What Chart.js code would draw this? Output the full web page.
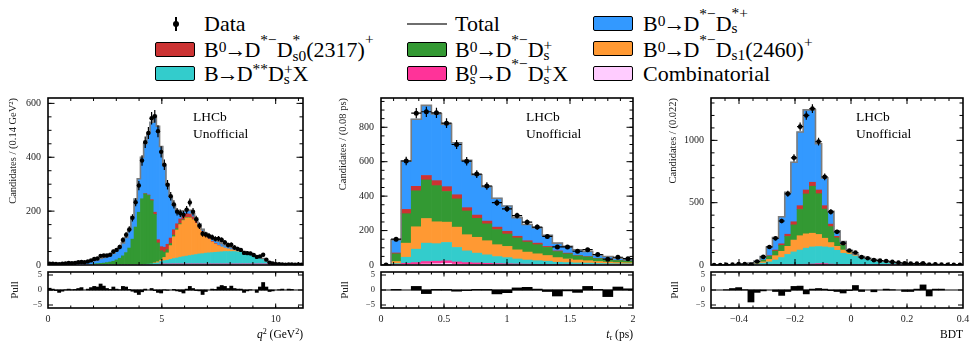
<!DOCTYPE html>
<html><head><meta charset="utf-8">
<script src="https://cdn.jsdelivr.net/npm/chart.js@4.4.1/dist/chart.umd.min.js"></script>
<style>
html,body{margin:0;padding:0;background:#fff;}
body{width:972px;height:342px;position:relative;overflow:hidden;font-family:"Liberation Serif","Times New Roman",serif;color:#000;}
.lg{position:absolute;font-size:22px;line-height:22px;white-space:nowrap;}
.s{font-size:0.7em;position:relative;line-height:0;}
.ar{margin:0 -2px;}
.box{position:absolute;width:38px;height:13px;border:1.5px solid #000;border-radius:2px;}
canvas{position:absolute;}
.txt{position:absolute;white-space:nowrap;line-height:1;}
.lab{font-size:13.5px;}
.xt{font-size:11.5px;text-align:right;}
</style></head><body>

<!-- legend -->
<div style="position:absolute;left:175px;top:17px;width:1.5px;height:14px;background:#000"></div>
<div style="position:absolute;left:173px;top:21px;width:6px;height:6px;border-radius:50%;background:#000"></div>
<div class="lg" style="left:204px;top:12.6px">Data</div>
<div style="position:absolute;left:407px;top:23px;width:40px;height:2px;background:#6e6e6e"></div>
<div class="lg" style="left:455px;top:12.6px">Total</div>
<div class="box" style="left:593px;top:16px;background:#3399ff"></div>
<div class="lg" style="left:643px;top:12.6px">B<span class="s" style="top:-5px">0</span><span class="ar">→</span>D<span class="s" style="top:-12px">*−</span>D<span class="s" style="top:2px">s</span><span class="s" style="top:-13px;margin-left:-0.389em">*+</span></div>

<div class="box" style="left:155px;top:42px;background:#cc3333"></div>
<div class="lg" style="left:204px;top:38.6px">B<span class="s" style="top:-5px">0</span><span class="ar">→</span>D<span class="s" style="top:-12px">*−</span>D<span class="s" style="top:-12px">*</span><span class="s" style="top:4px;margin-left:-0.5em">s0</span>(2317)<span class="s" style="top:-13px">+</span></div>
<div class="box" style="left:407px;top:42px;background:#339933"></div>
<div class="lg" style="left:455px;top:38.6px">B<span class="s" style="top:-5px">0</span><span class="ar">→</span>D<span class="s" style="top:-12px">*−</span>D<span class="s" style="top:3px">s</span><span class="s" style="top:-7px;margin-left:-0.389em">+</span></div>
<div class="box" style="left:593px;top:41px;background:#ff9933"></div>
<div class="lg" style="left:643px;top:38.6px">B<span class="s" style="top:-5px">0</span><span class="ar">→</span>D<span class="s" style="top:-12px">*−</span>D<span class="s" style="top:3px">s1</span>(2460)<span class="s" style="top:-10px">+</span></div>

<div class="box" style="left:155px;top:66px;background:#33cccc"></div>
<div class="lg" style="left:204px;top:62.6px">B<span class="ar">→</span>D<span class="s" style="top:-7px">**</span>D<span class="s" style="top:3px">s</span><span class="s" style="top:-7px;margin-left:-0.389em">+</span>X</div>
<div class="box" style="left:407px;top:66px;background:#ff3399"></div>
<div class="lg" style="left:455px;top:62.6px">B<span class="s" style="top:3px">s</span><span class="s" style="top:-6px;margin-left:-0.389em">0</span><span class="ar">→</span>D<span class="s" style="top:-12px">*−</span>D<span class="s" style="top:3px">s</span><span class="s" style="top:-7px;margin-left:-0.389em">+</span>X</div>
<div class="box" style="left:593px;top:66px;background:#ffccff"></div>
<div class="lg" style="left:643px;top:62.6px">Combinatorial</div>

<script>
Chart.defaults.font.family = '"Liberation Serif","Times New Roman",serif';
Chart.defaults.color = '#222';

// ---------------- Panel 1 : q^2 ----------------
const q2Range = [0, 11.2];
const q2Bins = 80;
const q2Data = [5,5,4,3,5,6,8,7,8,10, 11,10,13,17,22,24,34,35,35,38, 50,56,67,93,112,132,175,233,295,388,
  456,490,545,552,497,420,372,298,255,225, 198,192,187,205,232,198,170,146,116,113,
  108,103,97,98,93,84,74,75,65,60, 56,45,44,43,37,30,32,38,20,9, 6,3,3,2,1,2,2,1,2,1];
const q2Comb = [1,1,1,1,1,1,1,1,1,1, 1,1,1,1,1,1,1,1,1,1, 1,1,1,1,1,1,1,1,1,1, 1,1,1,1,1,1,1,1,1,1,
  1,1,1,1,1,1,1,1,1,1, 1,1,1,1,1,1,1,1,1,1, 1,1,1,1,1,1,1,1,1,1, 1,1,1,1,1,1,1,1,1,1];
const q2Bs = [0,0,0,0,0,0,0,0,0,0, 0,0,0,0,0,0,0,0,0,0, 0,0,0,0,0,0,0,0,0,0, 0,0,0,0,0,3,3,3,3,3,
  3,3,3,3,3,3,3,3,3,3, 3,3,3,3,3,3,3,3,3,3, 3,3,3,3,3,3,3,3,3,3, 3,1,1,0,0,0,0,0,0,0];
const q2Cyan = [0,0,0,0,0,0,0,0,0,0, 0,0,0,0,0,0,0,0,0,0, 0,0,0,0,0,0,0,0,0,0, 1,2,3,5,7,9,12,14,17,20,
  22,25,27,29,31,33,35,37,38,40, 41,42,43,44,45,46,46,46,46,45, 44,43,41,38,35,30,25,20,12,7, 4,2,1,0,0,0,0,0,0,0];
const q2Orange = [0,0,0,0,0,0,0,0,0,0, 0,0,0,0,0,0,0,0,0,0, 0,0,0,0,0,0,0,0,0,0, 0,0,0,2,4,5,12,27,51,81,
  104,121,134,142,140,131,116,97,78,61, 50,39,31,24,18,13,10,7,4,2, 1,1,1,1,0,0,0,0,0,0, 0,0,0,0,0,0,0,0,0,0];
const q2Green = [0,0,0,0,0,0,0,0,0,0, 0,0,0,1,3,4,5,6,8,10, 13,18,24,33,45,62,95,140,195,245, 262,255,235,180,70,35,20,12,8,6,
  5,4,3,2,2,1,0,0,0,0, 0,0,0,0,0,0,0,0,0,0, 0,0,0,0,0,0,0,0,0,0, 0,0,0,0,0,0,0,0,0,0];
const q2Red = [0,0,0,0,0,0,0,0,0,0, 0,0,0,0,0,0,0,0,0,0, 0,0,0,0,0,0,0,0,0,0, 1,2,4,8,12,15,18,20,20,20,
  18,17,15,13,12,10,8,6,5,4, 3,2,2,1,0,0,0,0,0,0, 0,0,0,0,0,0,0,0,0,0, 0,0,0,0,0,0,0,0,0,0];
const q2Blue = [3,3,4,4,5,5,6,6,7,8, 8,9,11,12,13,15,18,21,23,26, 30,35,41,48,56,67,84,104,124,154, 185,230,287,359,421,372,304,223,155,91,
  50,28,18,15,14,12,10,8,8,9, 10,13,15,15,13,11,10,8,7,7, 5,2,0,0,0,0,0,0,0,0, 0,0,0,0,0,0,0,0,0,0];
const q2Pull = [0.6,0.3,-0.2,-0.8,-0.4,0.1,0.3,0.1,0.2,0.5, 0.8,0,0.3,0.8,1.2,1.0,2.0,1.3,0.5,0.2,
  1.0,0.3,0.1,1.2,1.0,0.2,-0.4,-0.8,-1.5,-0.6, 0.3,0,0.5,-0.2,-0.8,-1.0,0.1,-0.1,0,0.2,
  -0.3,-0.5,-1.0,0.3,1.2,0.5,-0.2,-0.3,-1.5,-0.5, 0,0.3,0.2,1.0,1.5,1.2,0.5,1.3,0.5,0.3,
  0.3,-0.8,-0.3,0.1,0,-0.8,1.0,2.5,1.0,-0.5, -0.3,0,0.1,0.3,0,0.3,0.2,0,0,0];
const q2XTicks = [0, 5, 10];
const q2YTicks = [0, 200, 400, 600];

// ---------------- Panel 2 : t_tau ----------------
const tauRange = [0, 2];
const tauBins = 25;
const tauData = [0,150,604,882,890,884,824,700,603,528,459,362,326,287,249,220,166,105,105,80,89,61,34,45,37];
const tauComb = [0,1,3,4,6,8,10,5,4,4,3,3,2,2,2,1,1,1,1,1,1,1,1,1,1];
const tauBs = [0,2,7,10,14,14,14,13,10,8,7,5,5,4,3,3,3,2,2,1,1,1,1,1,1];
const tauCyan = [0,5,35,78,107,102,107,84,68,57,49,41,36,29,24,21,18,13,11,10,9,7,6,5,5];
const tauOrange = [0,12,82,130,143,127,118,118,94,92,82,69,65,53,46,40,33,27,21,17,14,11,9,7,6];
const tauGreen = [0,45,171,209,224,210,178,164,138,110,98,88,72,69,58,53,47,35,30,24,22,17,14,12,10];
const tauRed = [0,5,25,26,26,29,28,24,19,19,16,14,16,10,8,9,6,4,4,2,2,2,2,1,1];
const tauBlue = [0,77,281,390,407,388,363,302,275,234,200,168,147,108,94,89,65,45,39,33,29,20,16,12,11];
const tauPull = [0,0.2,0,1.2,-1.2,0.2,0.2,-0.4,-0.2,0.2,0.2,-1.3,-0.9,0.7,0.9,0.3,-0.5,-2.0,-0.3,-0.8,1.2,0.2,-2.2,1.0,0.4];
const tauXTicks = [0, 0.5, 1, 1.5, 2];
const tauYTicks = [0, 200, 400, 600, 800];

// ---------------- Panel 3 : BDT ----------------
const bdtRange = [-0.5, 0.4];
const bdtBins = 41;
const bdtData = [0,0,1,3,7,8,3,28,65,145, 214,353,571,860,1110,1200,1255,990,707,426, 266,175,116,100,63,54,39,35,32,25, 19,14,11,12,13,3,6,4,2,2, 2];
const bdtComb = [0,0,0,1,1,1,1,1,1,1, 1,1,1,1,1,1,1,1,1,1, 1,1,1,1,1,1,1,1,1,1, 1,1,1,1,1,1,1,0,0,0, 0];
const bdtBs = [0,0,0,0,0,0,0,0,0,0, 1,2,3,3,4,5,7,10,10,6, 4,3,3,3,3,3,2,2,2,2, 1,0,0,0,0,0,0,0,0,0, 0];
const bdtCyan = [0,0,0,0,0,1,3,7,14,24, 38,57,81,101,115,129,137,137,134,133, 113,90,82,68,56,46,37,29,24,18, 15,13,10,8,6,5,3,2,2,1, 1];
const bdtOrange = [0,0,0,0,0,1,2,4,10,20, 35,50,65,95,115,115,110,97,70,40, 32,26,12,6,2,1,1,0,0,0, 0,0,0,0,0,0,0,0,0,0, 0];
const bdtGreen = [0,0,0,0,1,3,4,8,15,25, 37,48,79,122,211,320,377,327,234,128, 68,39,9,2,1,0,0,0,0,0, 0,0,0,0,0,0,0,0,0,0, 0];
const bdtRed = [0,0,0,0,0,0,0,0,0,5, 8,12,18,25,30,32,32,30,27,20, 12,6,3,2,1,0,0,0,0,0, 0,0,0,0,0,0,0,0,0,0, 0];
const bdtBlue = [0,0,0,1,1,2,5,12,27,70, 100,217,336,478,591,643,581,371,223,102, 44,23,8,4,3,2,2,1,1,1, 1,0,0,0,0,0,0,0,0,0, 0];
const bdtPull = [0,0,0.1,0.5,0.8,0.1,-4.0,-0.8,-0.3,0, -0.5,-1.8,-0.5,1.2,1.3,-1.3,0.3,0.5,0.3,-0.2,
  -0.5,-1.0,-0.2,1.5,-0.5,0,-0.6,0,0.3,0.1, 0,-0.5,-0.5,0.3,1.7,-2.0,0.3,0.3,0,0, 0];
const bdtXTicks = [-0.4, -0.2, 0, 0.2, 0.4];
const bdtYTicks = [0, 500, 1000];

const pullYTicks = [-5, 0, 5];

// ---------------- styling ----------------
const COL = {comb:'#ffccff', bs:'#ff3399', cyan:'#33cccc', orange:'#ff9933', green:'#339933', red:'#cc3333', blue:'#3399ff'};
const fmt = v => String(v).replace('-', '\u2212');

function seq(lo, hi, step){ const out=[]; const n=Math.round((hi-lo)/step); for(let i=0;i<=n;i++) out.push(lo+i*step); return out; }

const rootFrame = {
  id:'rootFrame',
  afterDatasetsDraw(chart, args, o){
    if(!o || !o.on) return;
    const {ctx, chartArea:a, scales:{x, y}} = chart;
    ctx.save();
    ctx.strokeStyle = '#000';
    ctx.lineWidth = 1;
    ctx.beginPath();
    const xt = (vals, len) => { for(const v of vals){ const p = x.getPixelForValue(v); if(p < a.left+0.5 || p > a.right-0.5) continue; ctx.moveTo(p, a.bottom); ctx.lineTo(p, a.bottom-len); ctx.moveTo(p, a.top); ctx.lineTo(p, a.top+len);} };
    const yt = (vals, len) => { for(const v of vals){ const p = y.getPixelForValue(v); if(p < a.top+0.5 || p > a.bottom-0.5) continue; ctx.moveTo(a.left, p); ctx.lineTo(a.left+len, p); ctx.moveTo(a.right, p); ctx.lineTo(a.right-len, p);} };
    xt(o.xMaj, o.xMajLen); xt(o.xMin, o.xMinLen);
    yt(o.yMaj, o.yMajLen); yt(o.yMin, o.yMinLen);
    ctx.stroke();
    ctx.lineWidth = o.frameW;
    ctx.strokeRect(a.left, a.top, a.right-a.left, a.bottom-a.top);
    ctx.restore();
  }
};
const errBars = {
  id:'errBars',
  afterDatasetsDraw(chart, args, o){
    if(!o || !o.on) return;
    const ds = chart.data.datasets[o.index];
    const {ctx, chartArea:a, scales:{x, y}} = chart;
    ctx.save();
    ctx.beginPath(); ctx.rect(a.left, a.top, a.right-a.left, a.bottom-a.top+4); ctx.clip();
    ctx.strokeStyle = '#000'; ctx.lineWidth = o.lw;
    ctx.beginPath();
    for(const p of ds.data){
      const e = Math.sqrt(p.y);
      const px = x.getPixelForValue(p.x), py = y.getPixelForValue(p.y);
      ctx.moveTo(px, y.getPixelForValue(p.y - e)); ctx.lineTo(px, y.getPixelForValue(p.y + e));
      ctx.moveTo(x.getPixelForValue(p.x - o.hw), py); ctx.lineTo(x.getPixelForValue(p.x + o.hw), py);
    }
    ctx.stroke();
    ctx.restore();
  }
};
Chart.register(rootFrame, errBars);

function mkCanvas(left, top, w, h){
  const c = document.createElement('canvas');
  c.width = w; c.height = h;
  c.style.left = left+'px'; c.style.top = top+'px'; c.style.width = w+'px'; c.style.height = h+'px';
  document.body.appendChild(c);
  return c;
}
function addText(html, cls, style){
  const d = document.createElement('div');
  d.className = 'txt ' + cls; d.innerHTML = html; d.setAttribute('style', style);
  document.body.appendChild(d);
}

function buildPanel(p){
  const lo = p.range[0], hi = p.range[1], n = p.bins, w = (hi-lo)/n;
  const ctr = i => lo + w*(i+0.5);
  const comps = [['comb',p.comb],['bs',p.bs],['cyan',p.cyan],['orange',p.orange],['green',p.green],['red',p.red],['blue',p.blue]];
  const datasets = comps.map(([k, arr]) => ({
    type:'bar', label:k, stack:'mc', backgroundColor:COL[k], borderWidth:0,
    barPercentage:1, categoryPercentage:1, order:0,
    data: arr.map((v,i)=>({x:ctr(i), y:v})).filter(pt=>pt.y>0)
  }));
  const tot = Array.from({length:n}, (_,i)=>comps.reduce((s,[,arr])=>s+arr[i],0));
  const totPts = tot.map((v,i)=>({x:lo+w*i, y:v}));
  totPts.push({x:hi, y:tot[n-1]});
  datasets.push({type:'line', label:'total', data:totPts, stepped:'before', borderColor:'#7c7c7c', borderWidth:1.6, pointRadius:0, fill:false, order:-1});
  datasets.push({type:'scatter', label:'data', data:p.data.map((v,i)=>({x:ctr(i), y:v})), pointRadius:p.r, pointBackgroundColor:'#000', pointBorderWidth:0, order:-2});

  const W = (p.R - p.L) + 48 + 10;
  const mainC = mkCanvas(p.L-48, 90, W, 179);
  new Chart(mainC, {
    type:'bar',
    data:{datasets},
    options:{
      responsive:false, animation:false, devicePixelRatio:1,
      layout:{padding:{top:8, right:10, bottom:0, left:0}},
      plugins:{legend:{display:false}, tooltip:{enabled:false},
        rootFrame:{on:true, frameW:1.6, xMaj:p.xTicks, xMin:seq(lo,hi,p.xMinor), yMaj:p.yTicks, yMin:seq(0,p.ymax,p.yMinor), xMajLen:6, xMinLen:3, yMajLen:6.5, yMinLen:3.5},
        errBars:{on:true, index:datasets.length-1, hw:w/2, lw:1.2}},
      scales:{
        x:{type:'linear', stacked:true, min:lo, max:hi, offset:false, grid:{display:false, drawTicks:false}, border:{display:false},
           ticks:{display:false}, afterFit:s=>{s.height=4; s.paddingLeft=0; s.paddingRight=0; s.paddingTop=0; s.paddingBottom=0;}},
        y:{type:'linear', stacked:true, min:0, max:p.ymax, grid:{display:false, drawTicks:false}, border:{display:false},
           ticks:{font:{size:10}, padding:7, callback:v=>fmt(v)},
           afterBuildTicks:s=>{s.ticks = p.yTicks.map(v=>({value:v}));},
           title:{display:true, text:p.ytitle, align:'end', font:{size:10.5}, padding:{top:p.ytp, bottom:0}},
           afterFit:s=>{s.width=48; s.paddingLeft=0; s.paddingRight=0; s.paddingTop=0; s.paddingBottom=0;}}
      }
    }
  });

  const pullC = mkCanvas(p.L-48, 268, W, 62);
  new Chart(pullC, {
    type:'bar',
    data:{datasets:[
      {type:'bar', data:p.pull.map((v,i)=>({x:ctr(i), y:v})).filter(pt=>pt.y!==0), backgroundColor:'#000', borderWidth:0, barPercentage:1, categoryPercentage:1, order:0},
      {type:'line', data:[{x:lo,y:0},{x:hi,y:0}], borderColor:'#000', borderWidth:1, pointRadius:0, fill:false, order:-1}
    ]},
    options:{
      responsive:false, animation:false, devicePixelRatio:1,
      layout:{padding:{top:4, right:10, bottom:0, left:0}},
      plugins:{legend:{display:false}, tooltip:{enabled:false},
        rootFrame:{on:true, frameW:1.6, xMaj:p.xTicks, xMin:seq(lo,hi,p.xMinor), yMaj:pullYTicks, yMin:[], xMajLen:4.5, xMinLen:2.5, yMajLen:5, yMinLen:0}},
      scales:{
        x:{type:'linear', min:lo, max:hi, offset:false, grid:{display:false, drawTicks:false}, border:{display:false},
           ticks:{font:{size:10}, padding:5, maxRotation:0, autoSkip:false, callback:v=>fmt(v)},
           afterBuildTicks:s=>{s.ticks = p.xTicks.map(v=>({value:v}));},
           afterFit:s=>{s.height=22; s.paddingLeft=0; s.paddingRight=0; s.paddingTop=0; s.paddingBottom=0;}},
        y:{type:'linear', min:-6, max:6, grid:{display:false, drawTicks:false}, border:{display:false},
           ticks:{font:{size:8.5}, padding:6, callback:v=>fmt(v)},
           afterBuildTicks:s=>{s.ticks = pullYTicks.map(v=>({value:v}));},
           title:{display:true, text:'Pull', align:'center', font:{size:11}, padding:{top:p.ptp, bottom:0}},
           afterFit:s=>{s.width=48; s.paddingLeft=0; s.paddingRight=0; s.paddingTop=0; s.paddingBottom=0;}}
      }
    }
  });

  addText('LHCb', 'lab', `left:${p.L+145}px;top:110.2px`);
  addText('Unofficial', 'lab', `left:${p.L+145}px;top:126.7px`);
  addText(p.xtitle, 'xt', `right:${972-p.R}px;top:329.4px`);
}

buildPanel({L:48, R:303, range:q2Range, bins:q2Bins, data:q2Data, comb:q2Comb, bs:q2Bs, cyan:q2Cyan, orange:q2Orange, green:q2Green, red:q2Red, blue:q2Blue, pull:q2Pull,
  xTicks:q2XTicks, xMinor:1, yTicks:q2YTicks, yMinor:50, ymax:620, r:2.2, ytitle:'Candidates / (0.14 GeV\u00B2)', ytp:6.7, ptp:8.4,
  xtitle:'<i>q</i><span class="s" style="top:-4px">2</span> (GeV<span class="s" style="top:-4px">2</span>)'});
buildPanel({L:381, R:633, range:tauRange, bins:tauBins, data:tauData, comb:tauComb, bs:tauBs, cyan:tauCyan, orange:tauOrange, green:tauGreen, red:tauRed, blue:tauBlue, pull:tauPull,
  xTicks:tauXTicks, xMinor:0.1, yTicks:tauYTicks, yMinor:50, ymax:970, r:2.5, ytitle:'Candidates / (0.08 ps)', ytp:3.7, ptp:5.4,
  xtitle:'<i>t</i><span class="s" style="top:2px"><i>\u03C4</i></span> (ps)'});
buildPanel({L:711, R:963, range:bdtRange, bins:bdtBins, data:bdtData, comb:bdtComb, bs:bdtBs, cyan:bdtCyan, orange:bdtOrange, green:bdtGreen, red:bdtRed, blue:bdtBlue, pull:bdtPull,
  xTicks:bdtXTicks, xMinor:0.05, yTicks:bdtYTicks, yMinor:100, ymax:1340, r:2.3, ytitle:'Candidates / (0.022)', ytp:3.7, ptp:5.4,
  xtitle:'BDT'});
</script>
</body></html>
